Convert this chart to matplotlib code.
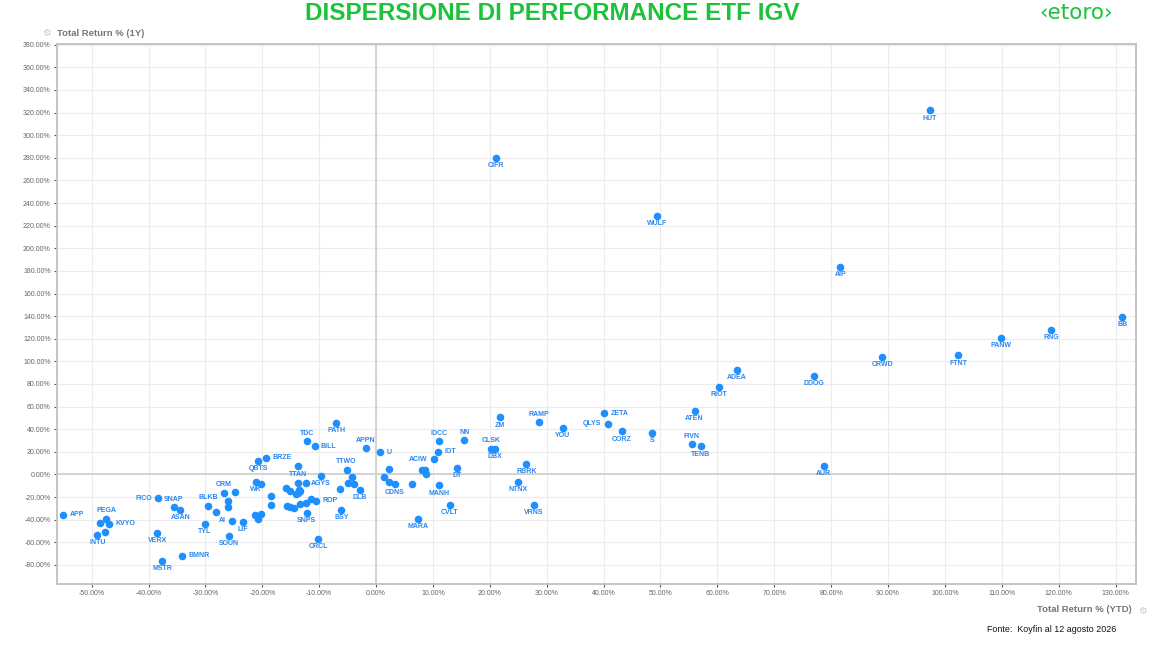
import matplotlib
matplotlib.use("Agg")
import matplotlib.pyplot as plt
from matplotlib.ticker import MultipleLocator, FuncFormatter

# ---- data (Total Return % YTD, Total Return % 1Y) ----
tickers = ["APP", "PEGA", "KVYO", "INTU", "", "", "FICO", "SNAP", "ASAN", "VERX", "MSTR", "BMNR",
           "BLKB", "", "CRM", "", "", "", "TYL", "AI", "LIF", "SOUN",
           "QBTS", "BRZE", "WK", "", "", "", "", "", "",
           "TDC", "PATH", "BILL", "APPN", "U", "TTAN", "TTWO", "AGYS",
           "", "", "", "", "", "", "", "", "", "", "", "DLB", "",
           "", "ROP", "", "", "", "", "", "SNPS", "BSY", "CRCL",
           "", "", "", "CDNS", "", "IDCC", "NN", "IOT", "ACIW", "", "", "",
           "DT", "MANH", "CVLT", "MARA", "CLSK", "DBX", "ZM", "RAMP", "YOU",
           "RBRK", "NTNX", "VRNS", "ZETA", "QLYS", "CORZ", "S", "ATEN", "FIVN", "TENB",
           "RIOT", "ADEA", "DDOG", "AUR", "CRWD", "FTNT", "PANW", "RNG", "BB", "AIP",
           "HUT", "CIFR", "WULF"]
ytd = [-55.0, -47.4, -46.9, -49.0, -48.6, -47.6, -38.3, -35.6, -34.4, -38.5, -37.6, -34.1,
       -29.5, -28.1, -26.7, -24.8, -26.1, -26.0, -30.1, -25.3, -23.4, -25.8,
       -20.7, -19.3, -21.1, -20.3, -18.5, -18.5, -21.3, -20.3, -20.7,
       -12.2, -7.0, -10.8, -1.8, 0.7, -13.8, -5.2, -9.7,
       -4.3, -15.8, -15.2, -13.7, -12.4, -13.6, -13.4, -13.8, -14.1, -5.0, -3.9, -2.8, -6.4,
       -11.5, -10.6, -12.3, -13.4, -14.4, -15.1, -15.6, -12.2, -6.1, -10.2,
       2.2, 1.4, 2.2, 3.3, 6.3, 11.0, 15.5, 10.9, 10.2, 8.0, 8.6, 8.8,
       14.2, 11.0, 13.0, 7.3, 20.2, 20.9, 21.7, 28.6, 32.8,
       26.4, 25.0, 27.7, 40.1, 40.7, 43.2, 48.5, 56.0, 55.5, 57.1,
       60.2, 63.4, 77.0, 78.7, 89.0, 102.3, 109.8, 118.7, 131.2, 81.6,
       97.4, 21.0, 49.4]
one_year = [-35.4, -38.9, -43.6, -53.1, -43.0, -51.0, -21.2, -28.8, -31.2, -51.6, -76.6, -71.9,
            -27.7, -33.0, -16.2, -15.6, -23.5, -28.6, -43.9, -40.7, -41.6, -54.2,
            11.8, 14.8, -6.5, -8.0, -18.6, -27.1, -35.9, -34.5, -39.2,
            29.5, 45.5, 24.8, 23.4, 19.5, 7.1, 4.2, -0.9,
            -2.0, -12.0, -14.4, -7.3, -7.1, -13.5, -15.0, -16.5, -17.1, -7.3, -8.8, -13.5, -12.7,
            -21.8, -23.3, -25.3, -26.5, -29.5, -28.6, -28.0, -34.2, -31.5, -56.6,
            5.3, -1.8, -6.5, -8.8, -8.5, 29.5, 30.4, 20.1, 13.6, 4.0, 4.2, 0.8,
            5.9, -9.7, -26.8, -38.9, 22.7, 22.7, 50.4, 46.0, 41.1,
            9.5, -6.8, -26.8, 54.3, 44.9, 38.1, 36.9, 56.1, 26.9, 24.8,
            77.6, 92.7, 87.1, 7.7, 103.9, 105.3, 121.0, 127.8, 139.3, 183.5,
            321.9, 279.6, 228.9]

# label placement (r=right, l=left, a=above, default below)
label_side = {"APP": "r", "KVYO": "r", "BMNR": "r", "BRZE": "r", "BILL": "r", "U": "r",
              "ROP": "r", "IOT": "r", "ZETA": "r",
              "FICO": "l", "AI": "l", "ACIW": "l", "QLYS": "l",
              "PEGA": "a", "SNAP": "a", "BLKB": "a", "CRM": "a", "TDC": "a", "APPN": "a",
              "TTWO": "a", "IDCC": "a", "NN": "a", "CLSK": "a", "RAMP": "a", "FIVN": "a"}

title = "DISPERSIONE DI PERFORMANCE ETF IGV"
x_label = "Total Return % (YTD)"
y_label = "Total Return % (1Y)"
source = "Fonte:  Koyfin al 12 agosto 2026"

W, H = 1170, 646
fig = plt.figure(figsize=(W / 100, H / 100), dpi=100)
ax = fig.add_axes([57 / W, 1 - 584 / H, (1136 - 57) / W, (584 - 43.5) / H])

dot_color = "#1e8fff"
lab_color = "#2a85f0"
ax.scatter(ytd, one_year, s=30, color=dot_color, zorder=3, linewidths=0)

offsets = {"r": ((4.5, 0), "left", "center"),
           "l": ((-4.5, 0), "right", "center"),
           "a": ((0, 3.2), "center", "bottom"),
           "b": ((0, -3.0), "center", "top")}
for t, xv, yv in zip(tickers, ytd, one_year):
    if not t:
        continue
    off, ha, va = offsets[label_side.get(t, "b")]
    ax.annotate(t, (xv, yv), xytext=off, textcoords="offset points", ha=ha, va=va,
                fontsize=5, fontweight="bold", color=lab_color,
                family="Liberation Sans", zorder=4)

ax.set_xlim(-56.1, 133.6)
ax.set_ylim(-96.8, 381)
ax.xaxis.set_major_locator(MultipleLocator(10))
ax.yaxis.set_major_locator(MultipleLocator(20))
fmt = FuncFormatter(lambda v, p: f"{v:.2f}%")
ax.xaxis.set_major_formatter(fmt)
ax.yaxis.set_major_formatter(fmt)
ax.grid(True, color="#ececec", linewidth=0.8, zorder=0)
ax.set_axisbelow(True)
ax.axvline(0, color="#d0d0d0", linewidth=1.3, zorder=1)
ax.axhline(0, color="#d0d0d0", linewidth=1.3, zorder=1)
for sp in ax.spines.values():
    sp.set_color("#c4c4c4")
    sp.set_linewidth(1.4)
ax.tick_params(axis="both", labelsize=5, colors="#555555", length=2.5, width=0.8, pad=2)
for lbl in ax.get_xticklabels() + ax.get_yticklabels():
    lbl.set_family("Liberation Sans")
    lbl.set_color("#666666")

# texts
fig.text(552.5 / W, 1 - 2 / H, title, ha="center", va="top", fontsize=17.5,
         fontweight="bold", color="#1cc33a", family="Liberation Sans")
fig.text(1076 / W, 1 - 13 / H, "\u2039etoro\u203a", ha="center", va="center",
         fontsize=15.5, color="#1cc33a", family="DejaVu Sans")
fig.text(57 / W, 1 - 33 / H, y_label, ha="left", va="center", fontsize=6.8,
         fontweight="bold", color="#777777", family="Liberation Sans")
fig.text(46 / W, 1 - 33 / H, "\u2699", ha="center", va="center", fontsize=7,
         color="#c8c8c8", family="DejaVu Sans")
fig.text(1132 / W, 1 - 610 / H, x_label, ha="right", va="center", fontsize=6.8,
         fontweight="bold", color="#777777", family="Liberation Sans")
fig.text(1142 / W, 1 - 611 / H, "\u2699", ha="center", va="center", fontsize=7,
         color="#c8c8c8", family="DejaVu Sans")
fig.text(987 / W, 1 - 630 / H, source, ha="left", va="center", fontsize=6.4,
         color="#111111", family="Liberation Sans")

fig.savefig("out.png", dpi=100)
